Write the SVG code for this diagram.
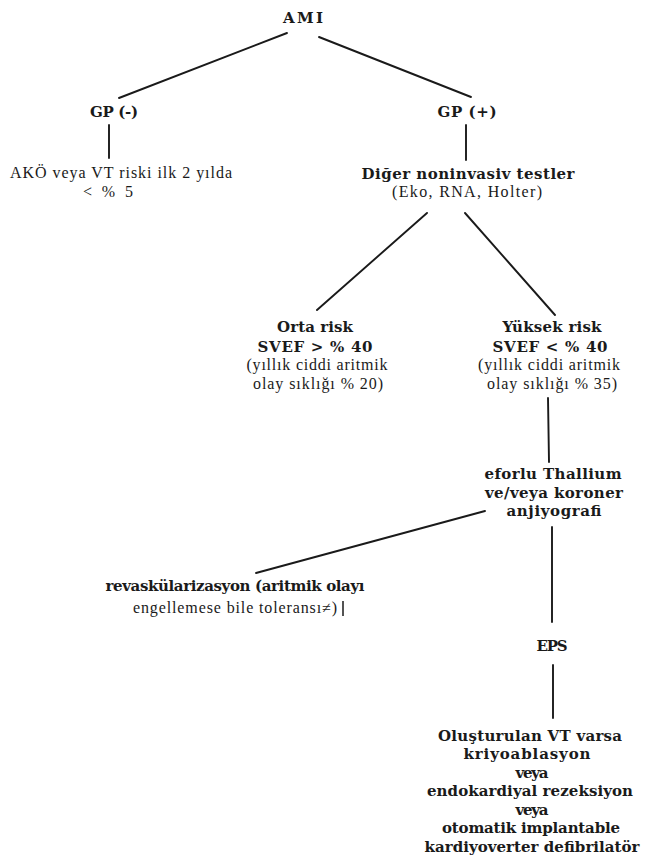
<svg xmlns="http://www.w3.org/2000/svg" width="655" height="862" viewBox="0 0 655 862">
<style>
.b{font-family:"DejaVu Serif","Liberation Serif",serif;font-weight:bold;font-size:15px;fill:#1a1a1a;text-anchor:middle}
.n{font-family:"Liberation Serif","Times New Roman",serif;font-size:16px;fill:#1a1a1a;text-anchor:middle}
#connectors line{stroke:#1a1a1a;stroke-width:1.9;stroke-linecap:round}
</style>
<rect width="655" height="862" fill="#ffffff"/>
<g id="connectors">
<line x1="287" y1="33" x2="119" y2="98"/>
<line x1="319" y1="37" x2="471" y2="97"/>
<line x1="109" y1="125" x2="109" y2="158"/>
<line x1="466" y1="125" x2="466" y2="160"/>
<line x1="427" y1="213" x2="317" y2="310"/>
<line x1="465" y1="213" x2="555" y2="315"/>
<line x1="548" y1="398" x2="549" y2="462"/>
<line x1="485" y1="511" x2="256" y2="573"/>
<line x1="552" y1="527" x2="552" y2="622"/>
<line x1="553" y1="665" x2="553" y2="718"/>
</g>
<g id="ami">
<text class="b" x="303" y="23" textLength="40" lengthAdjust="spacing">AMI</text>
</g>
<g id="gp-neg">
<text class="b" x="114" y="117" textLength="48" lengthAdjust="spacing">GP (-)</text>
</g>
<g id="gp-pos">
<text class="b" x="467" y="117" textLength="59" lengthAdjust="spacing">GP (+)</text>
</g>
<g id="ako">
<text class="n" x="121" y="178" textLength="222" lengthAdjust="spacing">AKÖ veya VT riski ilk 2 yılda</text>
<text class="n" x="108" y="197" textLength="50" lengthAdjust="spacing">&lt; % 5</text>
</g>
<g id="diger">
<text class="b" x="468" y="179" textLength="213" lengthAdjust="spacing">Diğer noninvasiv testler</text>
<text class="n" x="467" y="197" textLength="150" lengthAdjust="spacing">(Eko, RNA, Holter)</text>
</g>
<g id="orta-risk">
<text class="b" x="315" y="332" textLength="76" lengthAdjust="spacing">Orta risk</text>
<text class="b" x="315" y="352" textLength="115" lengthAdjust="spacing">SVEF &gt; % 40</text>
<text class="n" x="317" y="370" textLength="141" lengthAdjust="spacing">(yıllık ciddi aritmik</text>
<text class="n" x="318" y="389" textLength="130" lengthAdjust="spacing">olay sıklığı % 20)</text>
</g>
<g id="yuksek-risk">
<text class="b" x="552" y="332" textLength="99" lengthAdjust="spacing">Yüksek risk</text>
<text class="b" x="550" y="352" textLength="115" lengthAdjust="spacing">SVEF &lt; % 40</text>
<text class="n" x="549" y="370" textLength="142" lengthAdjust="spacing">(yıllık ciddi aritmik</text>
<text class="n" x="552" y="389" textLength="130" lengthAdjust="spacing">olay sıklığı % 35)</text>
</g>
<g id="eforlu">
<text class="b" x="553" y="479" textLength="137" lengthAdjust="spacing">eforlu Thallium</text>
<text class="b" x="554" y="498" textLength="138" lengthAdjust="spacing">ve/veya koroner</text>
<text class="b" x="554" y="516" textLength="95" lengthAdjust="spacing">anjiyografi</text>
</g>
<g id="revask">
<text class="b" x="235" y="591" textLength="259" lengthAdjust="spacing">revaskülarizasyon (aritmik olayı</text>
<text class="n" x="235" y="613" textLength="204" lengthAdjust="spacing">engellemese bile toleransı≠)</text>
<line x1="343" y1="601" x2="343" y2="616" stroke="#1a1a1a" stroke-width="1.5"/>
</g>
<g id="eps">
<text class="b" x="552" y="651" textLength="31" lengthAdjust="spacing">EPS</text>
</g>
<g id="tedavi">
<text class="b" x="530" y="741" textLength="184" lengthAdjust="spacing">Oluşturulan VT varsa</text>
<text class="b" x="527" y="759" textLength="127" lengthAdjust="spacing">kriyoablasyon</text>
<text class="b" x="532" y="778" textLength="33" lengthAdjust="spacing">veya</text>
<text class="b" x="530" y="796" textLength="206" lengthAdjust="spacing">endokardiyal rezeksiyon</text>
<text class="b" x="532" y="815" textLength="33" lengthAdjust="spacing">veya</text>
<text class="b" x="531" y="833" textLength="178" lengthAdjust="spacing">otomatik implantable</text>
<text class="b" x="532" y="852" textLength="215" lengthAdjust="spacing">kardiyoverter defibrilatör</text>
</g>
</svg>
